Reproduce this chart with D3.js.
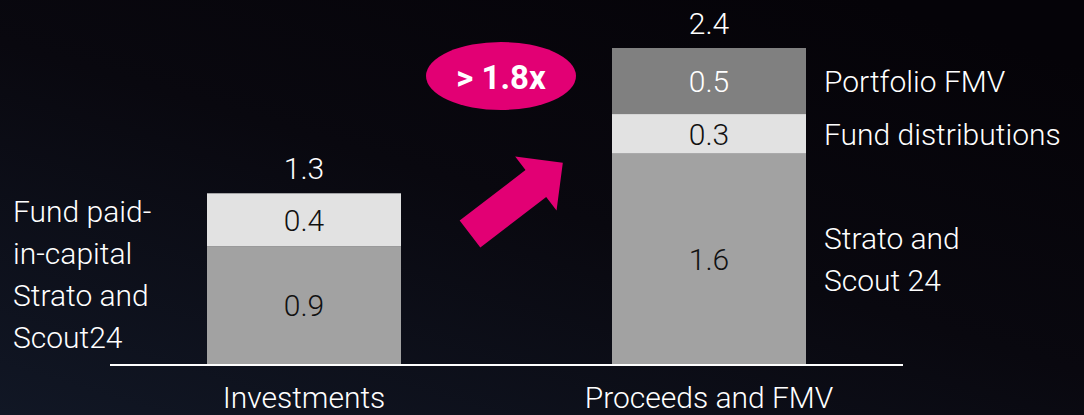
<!DOCTYPE html>
<html>
<head>
<meta charset="utf-8">
<script src="https://cdn.jsdelivr.net/npm/d3@7"></script>
<style>
  html, body { margin: 0; padding: 0; background: #07060b; }
  svg { display: block; font-family: Roboto, "Open Sans", sans-serif; }
</style>
</head>
<body>
<svg id="chart" width="1084" height="415"></svg>
<script>
// data
var categories = ['Investments', 'Proceeds and FMV'];
var investments = [
  { key: 'strato', value: 0.9 },
  { key: 'paidin', value: 0.4 }
];
var proceeds = [
  { key: 'strato', value: 1.6 },
  { key: 'distrib', value: 0.3 },
  { key: 'fmv', value: 0.5 }
];
var totals = ['1.3', '2.4'];
var leftLabels = ['Fund paid-', 'in-capital', 'Strato and', 'Scout24'];
var rightLabels = [
  { key: 'fmv', lines: ['Portfolio FMV'] },
  { key: 'distrib', lines: ['Fund distributions'] },
  { key: 'strato', lines: ['Strato and', 'Scout 24'] }
];
var multiple = '> 1.8x';

var fills = { strato: '#a2a2a2', paidin: '#e2e2e2', distrib: '#e2e2e2', fmv: '#808080' };
var inks = { strato: '#111', paidin: '#111', distrib: '#111', fmv: '#fff' };

var W = 1084, H = 415;
var fs = 30;
var svg = d3.select('#chart');

// background gradient
var defs = svg.append('defs');
var grad = defs.append('linearGradient').attr('id', 'bg')
  .attr('x1', '0%').attr('y1', '100%').attr('x2', '80%').attr('y2', '0%');
grad.append('stop').attr('offset', '0%').attr('stop-color', '#111725');
grad.append('stop').attr('offset', '55%').attr('stop-color', '#09080f');
grad.append('stop').attr('offset', '100%').attr('stop-color', '#050308');
svg.append('rect').attr('width', W).attr('height', H).attr('fill', 'url(#bg)');

var baseY = 365;
var x = d3.scaleBand().domain(categories).range([207, 806]).paddingInner(0.521).paddingOuter(0);
var y = d3.scaleLinear().domain([0, 2.4]).range([baseY, baseY - 317]);

function stack(segs) {
  var acc = 0;
  return segs.map(function(s) {
    var o = { key: s.key, value: s.value, y0: acc, y1: acc + s.value };
    acc += s.value;
    return o;
  });
}
var bars = [
  { name: categories[0], segs: stack(investments) },
  { name: categories[1], segs: stack(proceeds) }
];

var g = svg.selectAll('g.bar').data(bars).enter().append('g').attr('class', 'bar');
function segData(d) {
  return d.segs.map(function(s) { return Object.assign({ name: d.name }, s); });
}
g.selectAll('rect').data(segData).enter().append('rect')
  .attr('x', function(d) { return x(d.name); })
  .attr('width', x.bandwidth())
  .attr('y', function(d) { return y(d.y1); })
  .attr('height', function(d) { return y(d.y0) - y(d.y1); })
  .attr('fill', function(d) { return fills[d.key]; });

g.selectAll('text.val').data(segData).enter().append('text').attr('class', 'val')
  .attr('x', function(d) { return x(d.name) + x.bandwidth() / 2; })
  .attr('y', function(d) { return (y(d.y0) + y(d.y1)) / 2; })
  .attr('dy', '0.36em')
  .attr('text-anchor', 'middle')
  .attr('font-size', fs).attr('font-weight', 300)
  .attr('fill', function(d) { return inks[d.key]; })
  .text(function(d) { return d.value.toFixed(1); });

// totals
g.append('text')
  .attr('x', function(d) { return x(d.name) + x.bandwidth() / 2; })
  .attr('y', function(d) { return y(d3.sum(d.segs, function(s) { return s.value; })) - 14; })
  .attr('text-anchor', 'middle')
  .attr('font-size', fs).attr('font-weight', 300).attr('fill', '#fff')
  .text(function(d, i) { return totals[i]; });

// baseline
svg.append('line').attr('x1', 110).attr('x2', 903).attr('y1', baseY).attr('y2', baseY)
  .attr('stroke', '#fff').attr('stroke-width', 2);

// category labels
svg.selectAll('text.cat').data(categories).enter().append('text').attr('class', 'cat')
  .attr('x', function(d) { return x(d) + x.bandwidth() / 2; })
  .attr('y', 408)
  .attr('text-anchor', 'middle')
  .attr('font-size', fs).attr('font-weight', 300).attr('fill', '#fff')
  .text(function(d) { return d; });

// left labels
svg.selectAll('text.left').data(leftLabels).enter().append('text').attr('class', 'left')
  .attr('x', 13)
  .attr('y', function(d, i) { return 222 + i * 42; })
  .attr('font-size', fs).attr('font-weight', 300).attr('fill', '#fff')
  .text(function(d) { return d; });

// right labels, centred on their segments
var propSegs = bars[1].segs;
var rx = x(categories[1]) + x.bandwidth() + 18;
rightLabels.forEach(function(r) {
  var s = propSegs.filter(function(p) { return p.key === r.key; })[0];
  var cy = (y(s.y0) + y(s.y1)) / 2;
  var n = r.lines.length;
  r.lines.forEach(function(line, i) {
    svg.append('text')
      .attr('x', rx)
      .attr('y', cy + (i - (n - 1) / 2) * 42)
      .attr('dy', '0.36em')
      .attr('font-size', fs).attr('font-weight', 300).attr('fill', '#fff')
      .text(line);
  });
});

// multiple badge
var badge = svg.append('g').attr('transform', 'translate(501,76)');
badge.append('ellipse').attr('rx', 75).attr('ry', 34).attr('fill', '#e20074');
badge.append('text').attr('y', 13).attr('text-anchor', 'middle')
  .attr('font-size', 33).attr('font-weight', 700).attr('fill', '#fff')
  .text(multiple);

// arrow
var len = 117, shaftW = 17, headW = 34, headL = 34;
var arrowPts = [
  [0, -shaftW], [len - headL, -shaftW], [len - headL, -headW], [len, 0],
  [len - headL, headW], [len - headL, shaftW], [0, shaftW]
];
svg.append('path')
  .attr('transform', 'translate(470,234) rotate(-37.5)')
  .attr('d', d3.line()(arrowPts) + 'Z')
  .attr('fill', '#e20074');
</script>
</body>
</html>
